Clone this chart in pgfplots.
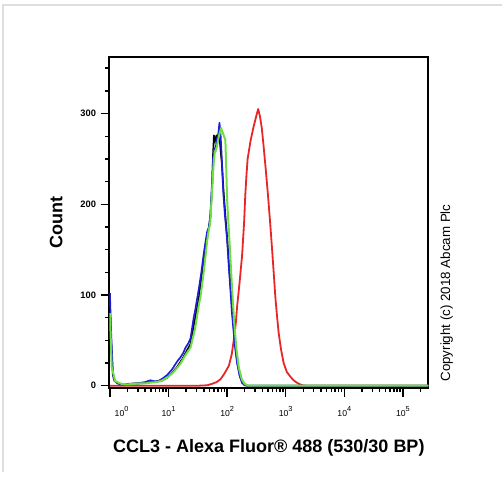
\documentclass[border=0pt]{standalone}
\usepackage{fontspec}
\setmainfont{Liberation Sans}
\usepackage{pgfplots}
\pgfplotsset{compat=1.18}
\definecolor{cred}{RGB}{232,38,40}
\definecolor{cblue}{RGB}{30,30,215}
\definecolor{cgreen}{RGB}{110,222,70}
\definecolor{framegray}{RGB}{222,222,222}
% x values are log10 of the fluorescence, y values are counts
\newcommand{\dec}[1]{10\raisebox{3.2pt}{\fontsize{5.5}{6}\selectfont #1}}
\begin{document}
\begin{tikzpicture}
\path[use as bounding box] (0,0) rectangle (376.5pt,361.5pt);
\draw[framegray, line width=1.5pt] (2.6pt,7.5pt) -- (2.6pt,357.75pt) -- (376.5pt,357.75pt);
\begin{axis}[
    at={(82pt,70.5pt)}, anchor=south west,
    scale only axis, width=239.25pt, height=248pt,
    xmin=-0.01, xmax=5.434, ymin=-2.5, ymax=362,
    axis line style={line width=1.5pt},
    tick align=outside, xtick pos=left, ytick pos=left,
    major tick length=6.5pt, minor tick length=3pt,
    every tick/.style={black, line width=1.1pt},
    xtick={0,1,2,3,4,5},
    xticklabels={\hspace*{17.5pt}\dec{0},\dec{1},\dec{2},\dec{3},\dec{4},\dec{5}},
    minor xtick={0.301,0.477,0.602,0.699,0.778,0.845,0.903,0.954,
      1.301,1.477,1.602,1.699,1.778,1.845,1.903,1.954,
      2.301,2.477,2.602,2.699,2.778,2.845,2.903,2.954,
      3.301,3.477,3.602,3.699,3.778,3.845,3.903,3.954,
      4.301,4.477,4.602,4.699,4.778,4.845,4.903,4.954,5.301},
    ytick={0,100,200,300}, yticklabels={0,100,200,300},
    minor ytick={25,50,75,125,150,175,225,250,275,325,350},
    xticklabel style={font=\fontsize{6.5}{7}\selectfont, yshift=-4pt},
    yticklabel style={font=\bfseries\fontsize{7}{8}\selectfont},
    xlabel={CCL3 - Alexa Fluor® 488 (530/30 BP)},
    ylabel={Count},
    xlabel style={font=\bfseries\fontsize{13.5}{15}\selectfont, at={(axis description cs:0.5,-0.181)}, anchor=center},
    ylabel style={font=\bfseries\fontsize{13.5}{15}\selectfont, at={(axis description cs:-0.167,0.5)}, anchor=center},
    every axis plot/.append style={line join=round},
]
\addplot[cred, line width=1.35pt] coordinates {
(0,0) (1.5,0) (1.66,0.5) (1.74,2) (1.82,4) (1.886,7) (1.95,13) (2.03,22)
(2.08,35) (2.113,50) (2.15,70) (2.17,87) (2.21,112) (2.255,143) (2.29,180)
(2.31,210) (2.33,232) (2.35,250) (2.40,270) (2.45,285) (2.50,298) (2.53,305)
(2.56,297) (2.59,285) (2.62,266) (2.66,238) (2.70,208) (2.74,175) (2.77,148)
(2.80,120) (2.823,98) (2.85,78) (2.88,58) (2.92,40) (2.965,25) (3.02,15)
(3.08,10) (3.134,6) (3.2,3) (3.28,0.5) (3.35,0) (5.434,0)
};
\addplot[black, line width=1.25pt] coordinates {
(0,85) (0.02,50) (0.05,12) (0.08,5) (0.14,2.5) (0.2,1.5) (0.3,2) (0.4,2.5)
(0.5,2.5) (0.6,3) (0.69,4) (0.75,4) (0.82,5) (0.9,6) (0.98,9) (1.06,14)
(1.15,21) (1.2,26) (1.25,31) (1.29,36) (1.34,42) (1.375,46) (1.43,66)
(1.46,76) (1.52,98) (1.56,118) (1.60,138) (1.63,152) (1.66,166) (1.69,174)
(1.715,186) (1.745,222) (1.76,255) (1.775,276) (1.785,268) (1.80,272)
(1.82,276) (1.84,270) (1.86,275) (1.88,266) (1.91,245) (1.94,214)
(1.97,188) (2.01,155) (2.04,126) (2.07,100) (2.095,78) (2.125,55)
(2.155,36) (2.185,22) (2.22,10) (2.265,3) (2.31,0.5) (2.36,0) (5.434,0)
};
\addplot[cblue, line width=1.25pt] coordinates {
(0,102) (0.02,60) (0.05,15) (0.068,7) (0.12,3) (0.18,1.5) (0.3,2) (0.4,2)
(0.5,3) (0.6,4) (0.69,6) (0.75,5) (0.82,5) (0.9,8) (0.98,12) (1.06,18)
(1.15,27) (1.2,31) (1.25,36) (1.29,42) (1.34,47) (1.375,52) (1.43,75)
(1.46,85) (1.52,108) (1.56,125) (1.60,145) (1.63,158) (1.66,170) (1.69,175)
(1.715,190) (1.745,225) (1.76,250) (1.78,262) (1.80,258) (1.82,270)
(1.85,278) (1.87,290) (1.89,275) (1.91,250) (1.932,216) (1.96,190)
(2.0,161) (2.03,130) (2.056,106) (2.08,82) (2.113,58) (2.14,40) (2.17,25)
(2.21,12) (2.255,3) (2.30,0.5) (2.35,0) (5.434,0)
};
\addplot[cgreen, line width=1.5pt] coordinates {
(0,80) (0.015,50) (0.03,21) (0.09,5) (0.2,2) (0.3,1.5) (0.4,2) (0.5,2.5)
(0.6,2.5) (0.7,3.5) (0.8,4) (0.9,6) (1.0,10) (1.1,16) (1.2,24) (1.3,35)
(1.375,42) (1.45,62) (1.52,90) (1.545,98) (1.6,125) (1.66,160) (1.687,172)
(1.71,178) (1.745,216) (1.77,245) (1.79,258) (1.82,262) (1.86,275)
(1.897,284) (1.93,278) (1.97,271) (1.985,240) (2.0,205) (2.04,160)
(2.08,112) (2.12,70) (2.16,40) (2.2,20) (2.25,7) (2.3,2) (2.36,0) (5.434,0)
};
\end{axis}
\node[rotate=90, font=\fontsize{10}{12}\selectfont] at (335pt,141.75pt) {Copyright (c) 2018 Abcam Plc};
\end{tikzpicture}
\end{document}
